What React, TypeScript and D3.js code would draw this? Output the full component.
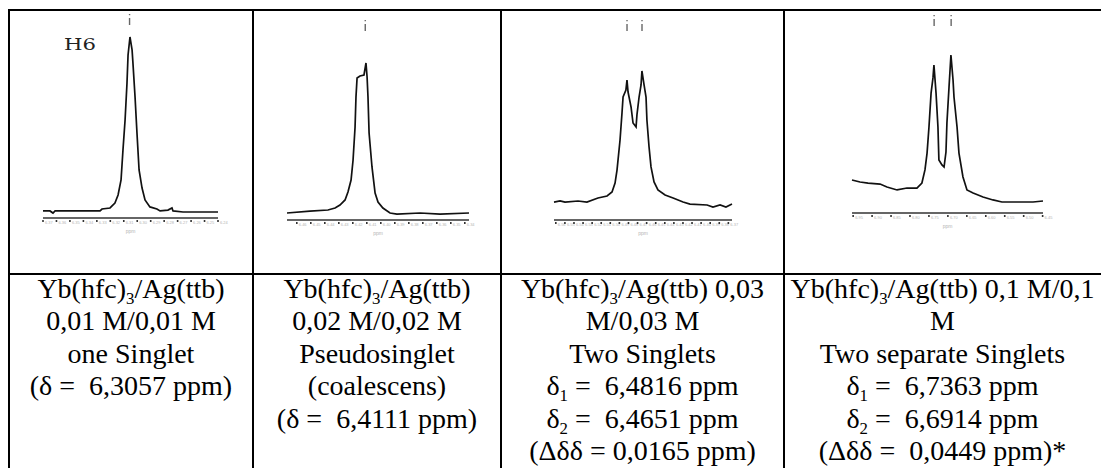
import * as d3 from 'd3';
import React from 'react';

// traces: [position in % of the ppm window (left→right), intensity in % of tallest peak]
const trace1: [number, number][] = [
  [0, 0.6], [4, 0.6], [5.7, -0.6], [6.9, 0.6], [32.6, 0.6], [33.7, 1.7], [38.3, 2.3], [41.1, 5.1],
  [42.9, 9.7], [44.6, 18.3], [45.7, 35.4], [46.9, 52.6], [48, 73.7], [48.6, 89.7], [49.7, 100],
  [50.9, 92.6], [51.4, 85.1], [52.6, 65.7], [53.7, 45.1], [54.9, 24], [56.6, 13.7], [58.3, 6.9],
  [61.1, 2.9], [65.1, 1.7], [66.9, 0.6], [71.4, 1.1], [73.7, 2.3], [74.3, 0.6], [80, 0], [89.7, 0], [100, 0],
];
const trace2: [number, number][] = [
  [0, 0], [12.6, 1.3], [22.5, 2], [26.4, 3.3], [29.1, 5.3], [31.9, 8.7], [33.5, 14], [35.2, 22],
  [36.3, 35.3], [37.4, 57.3], [37.9, 77.3], [38.5, 90], [40.1, 91.3], [42.3, 92], [43.4, 100],
  [44, 90.7], [44.5, 77.3], [45.1, 53.3], [46.7, 30.7], [48.4, 13.3], [50, 7.3], [52.7, 3.3],
  [56.6, 0], [60.4, -0.7], [73.1, 0], [84.1, -0.7], [100, 0],
];
const trace3: [number, number][] = [
  [0, 2.2], [3.4, 3], [6.2, 2.2], [13.5, 3], [18.5, 2.2], [24.7, 5.2], [29.8, 6.7], [32.6, 9.7],
  [34.3, 16.4], [35.4, 26.1], [37.1, 48.5], [38.2, 68.7], [38.8, 80.6], [40.4, 85.8], [41, 93.3],
  [41.6, 84.3], [43.3, 73.1], [44.4, 61.2], [46.1, 58.2], [46.6, 67.2], [47.8, 80.6], [48.9, 89.6],
  [49.4, 100], [50.6, 89.6], [51.7, 80.6], [52.2, 63.4], [53.4, 43.3], [54.5, 28.4], [56.2, 17.2],
  [58.4, 11.2], [62.4, 7.5], [66.9, 5.2], [72.5, 2.2], [76.4, 0.7], [86, 0], [89.3, -1.5], [93.3, 0],
  [96.6, -1.5], [100, 0.7],
];
const trace4: [number, number][] = [
  [0, 15], [4.2, 13.6], [8.4, 12.9], [14.7, 12.2], [18.3, 10.2], [23.6, 8.2], [28.8, 9.5], [34, 9.5],
  [36.6, 12.9], [38.2, 21.8], [39.3, 33.3], [40.3, 51], [41.4, 74.1], [42.4, 84.4], [42.9, 93.2],
  [44, 74.1], [45, 51], [45.5, 28.6], [47.1, 25.2], [48.2, 23.8], [49.2, 34], [49.7, 53.7],
  [50.8, 78.2], [51.8, 100], [52.9, 83], [53.4, 71.4], [55, 51], [56, 33.3], [58.1, 17], [60.2, 8.2],
  [63.4, 6.1], [68.6, 3.4], [73.8, 1.4], [78.5, 0], [94.8, 0], [100, 0.7],
];

// ppm windows of each spectrum (left, right) and picked peaks
const ppmWindow1 = [6.37, 6.24];
const ppmWindow2 = [6.467, 6.337];
const ppmWindow3 = [6.562, 6.366];
const ppmWindow4 = [6.953, 6.449];
const peaks1 = [6.3057];
const peaks2 = [6.4111];
const peaks3 = [6.4816, 6.4651];
const peaks4 = [6.7363, 6.6914];

// captions ("_n" = subscript)
const caption1 = ['Yb(hfc)_3/Ag(ttb)', '0,01 M/0,01 M', 'one Singlet', '(δ =  6,3057 ppm)'];
const caption2 = ['Yb(hfc)_3/Ag(ttb)', '0,02 M/0,02 M', 'Pseudosinglet', '(coalescens)', '(δ =  6,4111 ppm)'];
const caption3 = ['Yb(hfc)_3/Ag(ttb) 0,03', 'M/0,03 M', 'Two Singlets', 'δ_1 =  6,4816 ppm', 'δ_2 =  6,4651 ppm', '(Δδδ = 0,0165 ppm)'];
const caption4 = ['Yb(hfc)_3/Ag(ttb) 0,1 M/0,1', 'M', 'Two separate Singlets', 'δ_1 =  6,7363 ppm', 'δ_2 =  6,6914 ppm', '(Δδδ =  0,0449 ppm)*'];

const W = 1101;
const H = 468;
const colEdges = [9, 253, 501, 784, 1101];
const tableTop = 10;
const rowLine = 274;
const FONT = "'Liberation Serif', 'Times New Roman', serif";
const FS = 28;
const LH = 32.4;
const firstBase = 298;

// where each scanned spectrum sits inside its cell
const panels = [
  { trace: trace1, ppm: ppmWindow1, peaks: peaks1, caption: caption1, x0: 43, x1: 218, base: 212, top: 37, axisY: 218, markY: 14 },
  { trace: trace2, ppm: ppmWindow2, peaks: peaks2, caption: caption2, x0: 287, x1: 469, base: 213, top: 63, axisY: 220, markY: 20 },
  { trace: trace3, ppm: ppmWindow3, peaks: peaks3, caption: caption3, x0: 554, x1: 732, base: 205, top: 71, axisY: 220, markY: 20 },
  { trace: trace4, ppm: ppmWindow4, peaks: peaks4, caption: caption4, x0: 852, x1: 1043, base: 202, top: 55, axisY: 213, markY: 15 },
];

function Spectrum({ p }) {
  const xs = d3.scaleLinear().domain([0, 100]).range([p.x0, p.x1]);
  const ys = d3.scaleLinear().domain([0, 100]).range([p.base, p.top]);
  const ppm = d3.scaleLinear().domain(p.ppm).range([p.x0, p.x1]);
  const line = d3.line().x(d => xs(d[0])).y(d => ys(d[1]));
  const ticks = ppm.ticks(14);
  return (
    <g>
      <line x1={p.x0} x2={p.x1} y1={p.axisY} y2={p.axisY} stroke="#333" strokeWidth={1.6} />
      {ticks.map((t, i) => (
        <g key={i}>
          <rect x={ppm(t) - 0.8} y={p.axisY + 2} width={1.6} height={2} fill="#333" />
          <text x={ppm(t) + 2} y={p.axisY + 5.5} fontSize={4} fill="#b5b5b5" fontFamily="Liberation Sans, Arial, sans-serif">
            {t.toFixed(2)}
          </text>
        </g>
      ))}
      <text x={(p.x0 + p.x1) / 2} y={p.axisY + 15} fontSize={5} fill="#b5b5b5" textAnchor="middle" fontFamily="Liberation Sans, Arial, sans-serif">ppm</text>
      <path d={line(p.trace)} fill="none" stroke="#111" strokeWidth={1.7} strokeLinejoin="miter" />
      {p.peaks.map((v, i) => (
        <g key={i} stroke="#666" strokeWidth={1.4}>
          <line x1={ppm(v)} x2={ppm(v)} y1={p.markY} y2={p.markY + 1.2} />
          <line x1={ppm(v)} x2={ppm(v)} y1={p.markY + 4} y2={p.markY + 11} />
        </g>
      ))}
    </g>
  );
}

function Caption({ lines, cx }) {
  const sub = 6;
  return (
    <g>
      {lines.map((ln, i) => {
        const parts = ln.split(/_(\d)/);
        return (
          <text key={i} x={cx} y={firstBase + i * LH} fill="#000" textAnchor="middle" xmlSpace="preserve"
            style={{ whiteSpace: 'pre', fontFamily: FONT, fontSize: FS }}>
            {parts.map((s, j) =>
              j % 2 === 1 ? (
                <tspan key={j} style={{ fontSize: FS * 0.6 }} dy={sub}>{s}</tspan>
              ) : (
                <tspan key={j} dy={j > 0 ? -sub : 0}>{s}</tspan>
              )
            )}
          </text>
        );
      })}
    </g>
  );
}

export default function App() {
  return (
    <svg width={W} height={H} style={{ position: 'absolute', left: 0, top: 0, background: '#fff' }}>
      <rect width={W} height={H} fill="#fff" />
      {panels.map((p, i) => (
        <g key={i}>
          <Spectrum p={p} />
          <Caption lines={p.caption} cx={(colEdges[i] + colEdges[i + 1]) / 2} />
        </g>
      ))}
      <text x={64} y={50} style={{ fontFamily: "'DejaVu Serif', serif", fontSize: 17 }} fill="#222" textLength={32} lengthAdjust="spacingAndGlyphs">H6</text>
      <g stroke="#000" strokeWidth={2}>
        <line x1={colEdges[0] - 1} x2={W} y1={tableTop} y2={tableTop} />
        <line x1={colEdges[0] - 1} x2={W} y1={rowLine} y2={rowLine} />
        {colEdges.slice(0, 4).map((x, i) => (
          <line key={i} x1={x} x2={x} y1={tableTop - 1} y2={H} />
        ))}
      </g>
    </svg>
  );
}
